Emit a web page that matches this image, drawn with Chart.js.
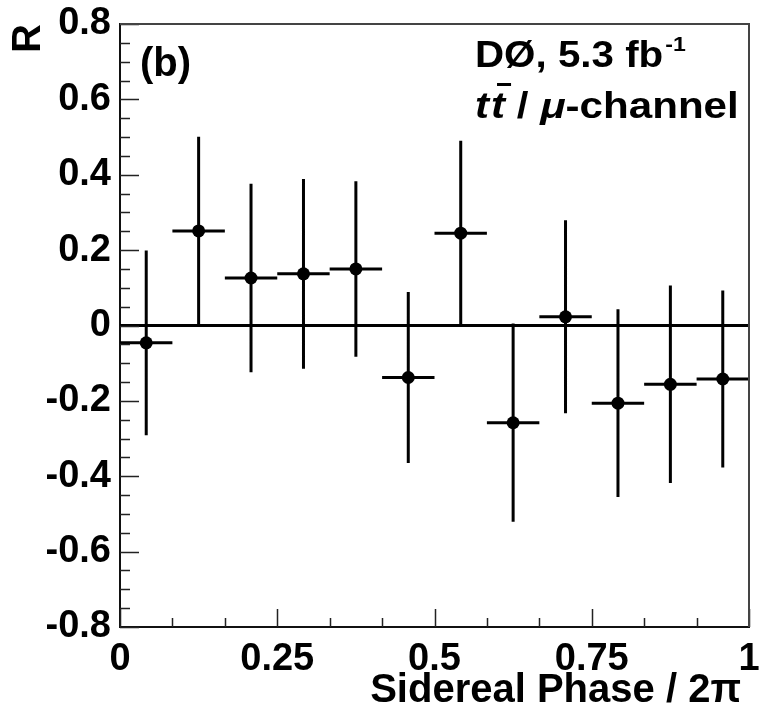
<!DOCTYPE html>
<html>
<head>
<meta charset="utf-8">
<script src="https://cdn.jsdelivr.net/npm/chart.js@4/dist/chart.umd.min.js"></script>
<style>
  html, body { margin: 0; padding: 0; background: #fff; }
  #wrap { width: 759px; height: 714px; }
</style>
</head>
<body>
<div id="wrap"><canvas id="chart" width="759" height="714"></canvas></div>
<script>
// 12 bins of sidereal phase
const binLow  = [0, 0.0833, 0.1667, 0.25, 0.3333, 0.4167, 0.5, 0.5833, 0.6667, 0.75, 0.8333, 0.9167];
const binHigh = [0.0833, 0.1667, 0.25, 0.3333, 0.4167, 0.5, 0.5833, 0.6667, 0.75, 0.8333, 0.9167, 1];
const phase   = [0.0417, 0.125, 0.2083, 0.2917, 0.375, 0.4583, 0.5417, 0.625, 0.7083, 0.7917, 0.875, 0.9583];
const ratio    = [-0.046, 0.251, 0.126, 0.137, 0.150, -0.138, 0.245, -0.258, 0.023, -0.206, -0.156, -0.142];
const ratioErr = [0.245, 0.250, 0.250, 0.252, 0.233, 0.227, 0.245, 0.263, 0.256, 0.249, 0.262, 0.235];

const yTicks = [-0.8, -0.6, -0.4, -0.2, 0, 0.2, 0.4, 0.6, 0.8];
const xTicks = [0, 0.25, 0.5, 0.75, 1];

const FONT = '"Liberation Sans", Arial, Helvetica, sans-serif';

// error bars: vertical + horizontal (bin width) segments, broken with null
const barPoints = [];
for (let i = 0; i < phase.length; i++) {
  barPoints.push({ x: phase[i], y: ratio[i] - ratioErr[i] });
  barPoints.push({ x: phase[i], y: ratio[i] + ratioErr[i] });
  barPoints.push({ x: phase[i], y: null });
  barPoints.push({ x: binLow[i], y: ratio[i] });
  barPoints.push({ x: binHigh[i], y: ratio[i] });
  barPoints.push({ x: binHigh[i], y: null });
}

// draw text stretched horizontally, returns advance
function wideText(ctx, str, x, y, sx) {
  ctx.save();
  ctx.translate(x, y);
  ctx.scale(sx, 1);
  ctx.fillText(str, 0, 0);
  const w = ctx.measureText(str).width * sx;
  ctx.restore();
  return w;
}

// ROOT style frame: ticks pointing inside, thin top/right lines, text labels
const rootFrame = {
  id: "rootFrame",
  afterDatasetsDraw(chart) {
    const { ctx, chartArea: a, scales: { x, y } } = chart;
    ctx.save();
    ctx.strokeStyle = "#222";
    ctx.lineWidth = 1.5;
    ctx.beginPath();
    for (let k = -16; k <= 16; k++) {
      const py = Math.round(y.getPixelForValue(k * 0.05)) + 0.5;
      const len = k % 4 === 0 ? 19 : 10;
      ctx.moveTo(a.left, py);
      ctx.lineTo(a.left + len, py);
    }
    for (let k = 0; k <= 12; k++) {
      const px = Math.round(x.getPixelForValue(k / 12)) + 0.5;
      const len = k % 3 === 0 ? 18 : 9;
      ctx.moveTo(px, a.bottom);
      ctx.lineTo(px, a.bottom - len);
    }
    ctx.stroke();

    ctx.strokeStyle = "#444";
    ctx.lineWidth = 2;
    ctx.beginPath();
    ctx.moveTo(a.left, a.top);
    ctx.lineTo(a.right, a.top);
    ctx.lineTo(a.right, a.bottom);
    ctx.stroke();
    ctx.restore();
  },
  afterDraw(chart) {
    const ctx = chart.ctx;
    ctx.save();
    ctx.fillStyle = "#000";
    ctx.textBaseline = "alphabetic";
    ctx.textAlign = "left";

    ctx.font = `bold 40px ${FONT}`;
    ctx.fillText("(b)", 140, 76);

    ctx.font = `bold 36px ${FONT}`;
    const w1 = wideText(ctx, "D\u00D8, 5.3 fb", 475, 67, 1.12);
    ctx.font = `bold 21px ${FONT}`;
    wideText(ctx, "-1", 475 + w1 + 2, 51, 1.1);

    // second line: t tbar / mu-channel
    const sx = 1.17;
    const base = 118;
    let cx = 475;
    ctx.font = `italic bold 36px ${FONT}`;
    cx += wideText(ctx, "t", cx, base, sx) + 2;
    const tw = wideText(ctx, "t", cx, base, sx);
    ctx.fillRect(cx + 6, base - 35, tw, 3);
    cx += tw;
    ctx.font = `bold 36px ${FONT}`;
    cx += wideText(ctx, " / ", cx, base, sx);
    ctx.font = `italic bold 36px ${FONT}`;
    cx += wideText(ctx, "\u03BC", cx, base, sx);
    ctx.font = `bold 36px ${FONT}`;
    wideText(ctx, "-channel", cx, base, sx);

    // x axis title, right aligned a little inside the frame edge
    const a = chart.chartArea;
    ctx.textAlign = "right";
    ctx.font = `bold 40px ${FONT}`;
    ctx.fillText("Sidereal Phase / 2\u03C0", a.right - 8, 702);
    ctx.restore();
  }
};

new Chart(document.getElementById("chart"), {
  type: "scatter",
  data: {
    datasets: [
      {
        label: "R",
        data: phase.map((p, i) => ({ x: p, y: ratio[i] })),
        pointRadius: 6.5,
        pointBackgroundColor: "#000",
        pointBorderColor: "#000",
        pointBorderWidth: 0,
        showLine: false,
      },
      {
        label: "errors",
        data: barPoints,
        showLine: true,
        spanGaps: false,
        pointRadius: 0,
        borderColor: "#000",
        borderWidth: 3,
      },
      {
        label: "zero",
        data: [{ x: 0, y: 0 }, { x: 1, y: 0 }],
        showLine: true,
        pointRadius: 0,
        borderColor: "#000",
        borderWidth: 3,
      },
    ],
  },
  options: {
    responsive: false,
    animation: false,
    layout: { padding: { top: 24, right: 10, left: 0, bottom: 0 } },
    plugins: {
      legend: { display: false },
      tooltip: { enabled: false },
    },
    scales: {
      x: {
        type: "linear",
        min: 0,
        max: 1,
        afterFit: (s) => { s.height = 87; s.paddingLeft = 0; s.paddingRight = 0; },
        afterBuildTicks: (s) => { s.ticks = xTicks.map((v) => ({ value: v })); },
        grid: { display: false, drawTicks: false },
        border: { display: true, color: "#111", width: 2 },
        ticks: {
          color: "#000",
          padding: 10,
          maxRotation: 0,
          font: { family: FONT, size: 38, weight: "bold" },
          callback: (v) => String(Math.round(v * 100) / 100),
        },
      },
      y: {
        min: -0.8,
        max: 0.8,
        afterFit: (s) => { s.width = 120; s.paddingTop = 0; s.paddingBottom = 0; },
        afterBuildTicks: (s) => { s.ticks = yTicks.map((v) => ({ value: v })); },
        grid: { display: false, drawTicks: false },
        border: { display: true, color: "#111", width: 2 },
        ticks: {
          color: "#000",
          padding: 9,
          font: { family: FONT, size: 38, weight: "bold" },
          callback: (v) => String(Math.round(v * 10) / 10),
        },
        title: {
          display: true,
          text: "R",
          align: "end",
          color: "#000",
          padding: { top: 5, bottom: 0 },
          font: { family: FONT, size: 40, weight: "bold" },
        },
      },
    },
  },
  plugins: [rootFrame],
});
</script>
</body>
</html>
